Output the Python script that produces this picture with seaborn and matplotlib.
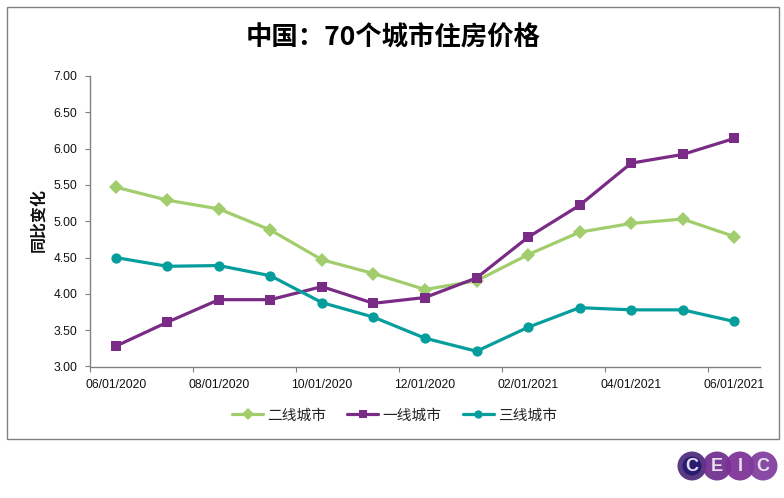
import pandas as pd
import matplotlib.pyplot as plt
import seaborn as sns
from matplotlib.patches import Circle, Rectangle
from matplotlib.transforms import IdentityTransform

months = ["06/01/2020", "07/01/2020", "08/01/2020", "09/01/2020", "10/01/2020",
          "11/01/2020", "12/01/2020", "01/01/2021", "02/01/2021", "03/01/2021",
          "04/01/2021", "05/01/2021", "06/01/2021"]
tier2 = [5.47, 5.29, 5.17, 4.88, 4.47, 4.28, 4.06, 4.18, 4.54, 4.85, 4.97, 5.03, 4.79]
tier1 = [3.28, 3.61, 3.92, 3.92, 4.10, 3.87, 3.95, 4.22, 4.78, 5.22, 5.80, 5.92, 6.14]
tier3 = [4.50, 4.38, 4.39, 4.25, 3.88, 3.68, 3.39, 3.21, 3.54, 3.81, 3.78, 3.78, 3.62]
series_names = ["二线城市", "一线城市", "三线城市"]
y_ticks = [3.0, 3.5, 4.0, 4.5, 5.0, 5.5, 6.0, 6.5, 7.0]

W, H = 784, 498

sns.set_theme(style="white")
plt.rcParams["font.family"] = ["Liberation Sans", "Noto Sans CJK SC"]

df = pd.DataFrame({
    "month": list(range(len(months))) * 3,
    "value": tier2 + tier1 + tier3,
    "series": [n for n in series_names for _ in months],
})

fig = plt.figure(figsize=(W / 100, H / 100), dpi=100, facecolor="white")
ax = fig.add_axes([90 / W, 1 - 366.5 / H, (760 - 90) / W, (366.5 - 76) / H])

palette = dict(zip(series_names, ["#A2CD6C", "#7A2B85", "#069E9C"]))
markers = dict(zip(series_names, ["D", "s", "o"]))
sns.lineplot(data=df, x="month", y="value", hue="series", style="series",
             hue_order=series_names, style_order=series_names, palette=palette,
             markers=markers, dashes=False, linewidth=2.3, markersize=7.4,
             markeredgewidth=0, errorbar=None, ax=ax)

ax.set_xlim(-0.5, 12.5)
ax.set_ylim(3, 7)
ax.set_xlabel("")
ax.set_ylabel("同比变化", fontsize=11.5, family="Noto Sans CJK SC", fontweight="bold",
              color="#111111")
ax.yaxis.set_label_coords((46 - 90) / (760 - 90), (366.5 - 220) / (366.5 - 76))

# labels sit on every other month, tick marks on the category edges
ax.set_xticks(range(0, 13, 2))
ax.set_xticklabels(months[::2], fontsize=8.7, color="#111111")
ax.set_xticks([i - 0.5 for i in range(0, 13, 2)], minor=True)
ax.tick_params(axis="x", which="major", length=0, pad=9)
ax.tick_params(axis="x", which="minor", length=3.5, width=0.8, color="#808080", bottom=True)
ax.set_yticks(y_ticks)
ax.set_yticklabels([f"{v:.2f}" for v in y_ticks], fontsize=8.7, color="#111111")
ax.tick_params(axis="y", length=3.5, width=0.8, color="#808080", pad=5.5, left=True)

sns.despine(ax=ax)
for side in ["left", "bottom"]:
    ax.spines[side].set_color("#808080")
    ax.spines[side].set_linewidth(1)

handles, labels = ax.get_legend_handles_labels()
ax.legend_.remove()
for h in handles:
    h.set_markersize(6)
fig.legend(handles, labels, loc="center", bbox_to_anchor=(394.5 / W, 1 - 415.5 / H),
           ncol=3, frameon=False, handlelength=2.1, handletextpad=0.28,
           columnspacing=1.45, labelcolor="#222222",
           prop={"family": "Noto Sans CJK SC", "size": 10.6})

fig.text(393.5 / W, 1 - 38 / H, "中国：70个城市住房价格", ha="center", va="center",
         fontsize=19, fontweight="bold", family="Noto Sans CJK SC", color="black")

# chart frame
fig.add_artist(Rectangle((6.5 / W, 1 - 439 / H), 772.5 / W, 432 / H, transform=fig.transFigure,
                         fill=False, edgecolor="#808080", linewidth=1))

# CEIC logo
logo_x = [692, 717, 740, 763]
logo_colors = ["#4A2A7A", "#6F2C8C", "#7B2F96", "#7E3A9C"]
for x0, col in zip(logo_x, logo_colors):
    fig.add_artist(Circle((x0, H - 466), 14.5, facecolor=col, edgecolor="none", alpha=0.92,
                          transform=IdentityTransform()))
fig.add_artist(Circle((logo_x[0], H - 466), 9.5, facecolor="#2A1C6E", edgecolor="none",
                      transform=IdentityTransform()))
for x0, ch in zip(logo_x, "CEIC"):
    fig.text(x0 / W, 1 - 466 / H, ch, ha="center", va="center", fontsize=13,
             fontweight="bold", color="#E8E0F0")

fig.savefig("out.png", dpi=100, facecolor="white")
